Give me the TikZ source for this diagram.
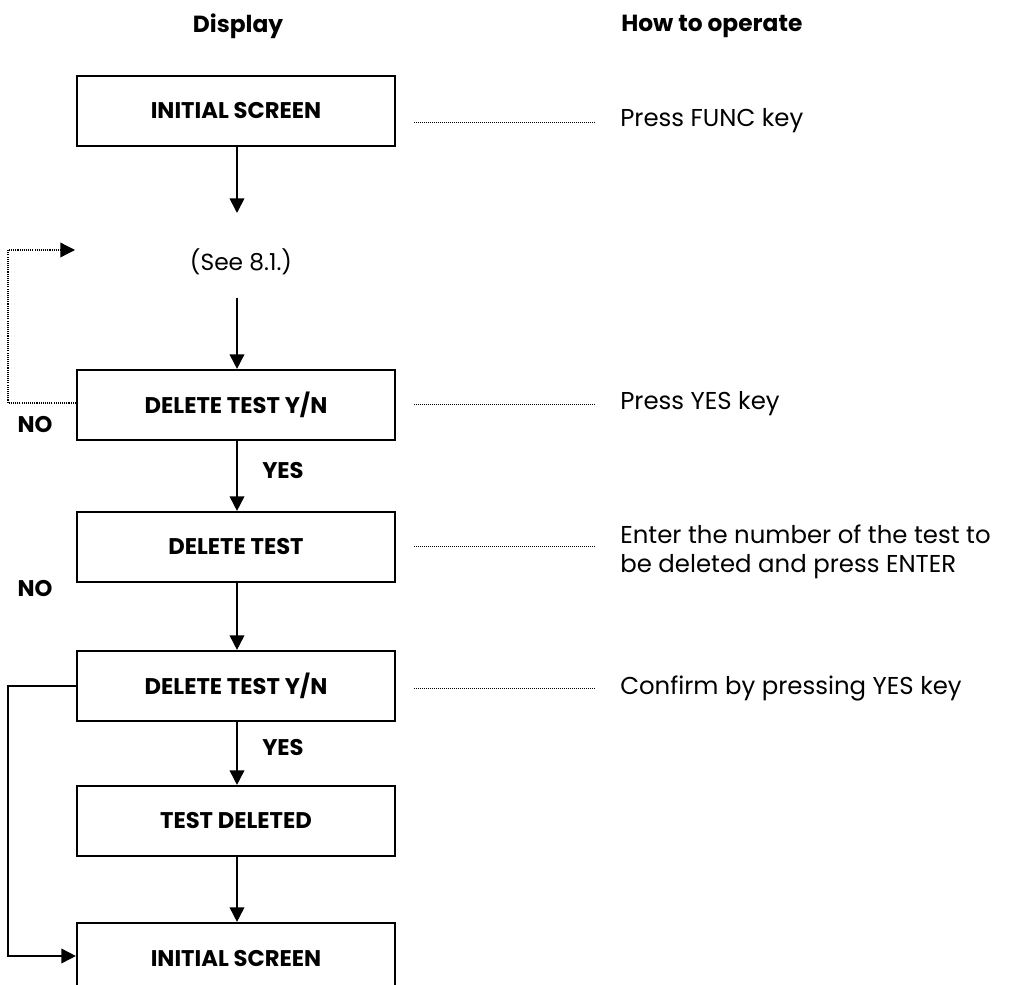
\documentclass[tikz,border=0pt]{standalone}
\usepackage{fontspec}
\setmainfont{Poppins}
\usetikzlibrary{arrows.meta,calc}

\tikzset{
  screen/.style={draw, line width=1.6pt, minimum width=318*0.75pt, minimum height=70*0.75pt,
    inner sep=0pt, font=\bfseries\fontsize{17}{20}\selectfont},
  hint/.style={anchor=west, inner sep=0pt, align=left, font=\fontsize{18.3}{22}\selectfont},
  head/.style={inner sep=0pt, font=\bfseries\fontsize{17.5}{20}\selectfont},
  tag/.style={inner sep=0pt, font=\bfseries\fontsize{17}{20}\selectfont},
  flow/.style={line width=1.3pt, -{Triangle[length=11pt,width=11pt]}},
  loop/.style={line width=1pt, dash pattern=on 0.8pt off 0.8pt, -{Triangle[length=11pt,width=11pt]}},
  leader/.style={line width=0.6pt, dash pattern=on 0.6pt off 0.9pt},
}

\begin{document}
\begin{tikzpicture}[x=0.75pt, y=-0.75pt]
\clip (0,0) rectangle (1014,985);
\useasboundingbox (0,0) rectangle (1014,985);

% column headings
\node[head] (hdisp) at (238,26) {Display};
\node[head, anchor=west] (hop) at (621,26) {How to operate};

% display screens
\node[screen] (s1) at (236,111) {INITIAL SCREEN};
\node[inner sep=0pt, font=\fontsize{17.5}{20}\selectfont] (see) at (241,262) {(See 8.1.)};
\node[screen] (s2) at (236,405) {DELETE TEST Y/N};
\node[screen] (s3) at (236,547) {DELETE TEST};
\node[screen] (s4) at (236,686) {DELETE TEST Y/N};
\node[screen] (s5) at (236,821) {TEST DELETED};
\node[screen] (s6) at (236,958) {INITIAL SCREEN};

% operating instructions
\node[hint] (h1) at (620,121) {Press FUNC key};
\node[hint] (h2) at (620,404) {Press YES key};
\node[hint] (h3) at (620,552) {Enter the number of the test to\\be deleted and press ENTER};
\node[hint] (h4) at (620,688) {Confirm by pressing YES key};

% dotted leaders from screens to instructions
\draw[leader] ($(s1.east|-0,122)+(18,0)$) -- ($(h1.west|-0,122)+(-25,0)$);
\draw[leader] ($(s2.east|-0,404)+(18,0)$) -- ($(h2.west|-0,404)+(-25,0)$);
\draw[leader] ($(s3.east|-0,546)+(18,0)$) -- ($(h3.west|-0,546)+(-25,0)$);
\draw[leader] ($(s4.east|-0,688)+(18,0)$) -- ($(h4.west|-0,688)+(-25,0)$);

% main flow
\coordinate (seetop) at (237,213);
\coordinate (seebot) at (237,298);
\draw[flow] (s1.south -| seetop) -- (seetop);
\draw[flow] (seebot) -- (s2.north -| seetop);
\draw[flow] (s2.south -| seetop) -- (s3.north -| seetop);
\draw[flow] (s3.south -| seetop) -- (s4.north -| seetop);
\draw[flow] (s4.south -| seetop) -- (s5.north -| seetop);
\draw[flow] (s5.south -| seetop) -- (s6.north -| seetop);

\node[tag, anchor=west] (yes1) at (262,471) {YES};
\node[tag, anchor=west] (yes2) at (262,748) {YES};

% NO branches
\coordinate (loopin) at (75,250);
\draw[loop] (s2.west |- 0,403) -- (8,403) -- (8,250) -- (loopin);
\node[tag] (no1) at (35,425) {NO};

\draw[flow] (s4.west) -- (8,686) -- (8,956) -- (s6.west |- 0,956);
\node[tag] (no2) at (35,589) {NO};
\end{tikzpicture}
\end{document}
